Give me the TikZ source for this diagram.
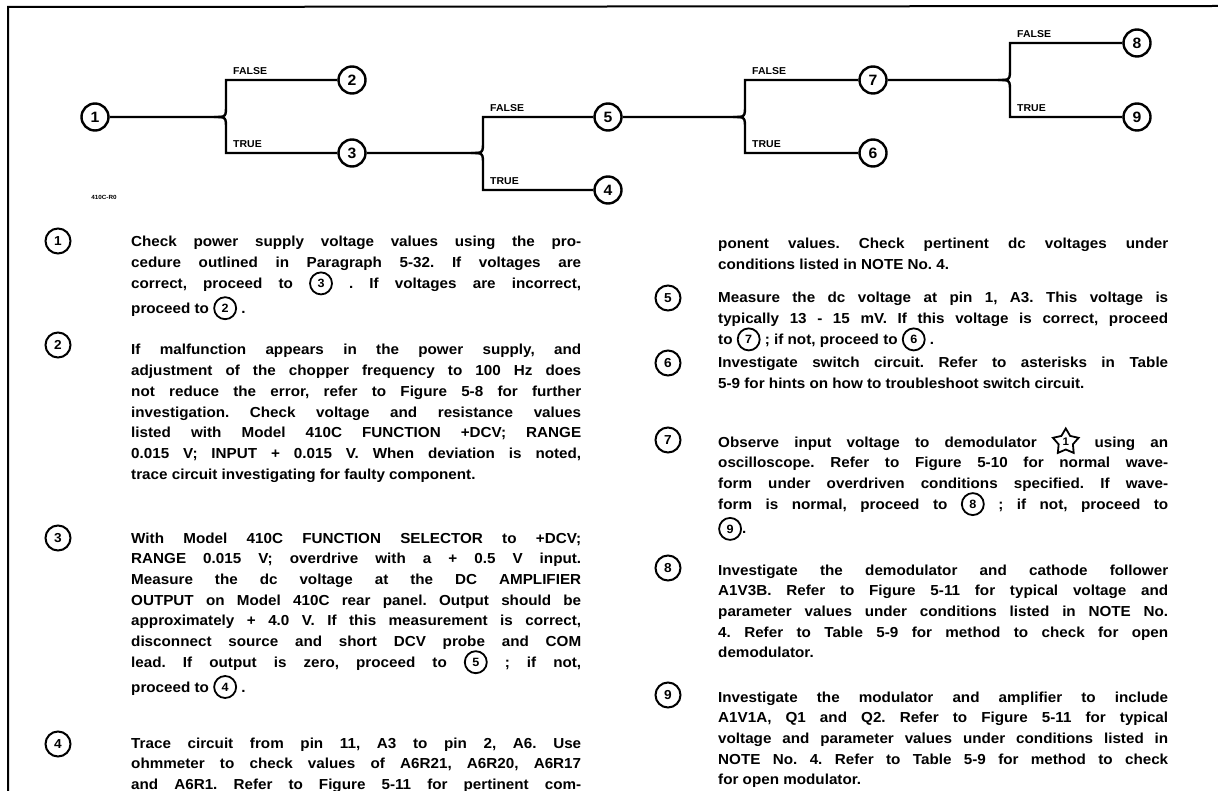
\documentclass[tikz,border=0pt]{standalone}
\usepackage{fontspec}
\setmainfont{Liberation Sans}[FakeStretch=1.05]
\usetikzlibrary{shapes.geometric,calc}
\newlength\colw \setlength\colw{450pt}
\newcommand\myjl[1]{\makebox[\colw][s]{#1}}
\newcommand\mylast[1]{\makebox[\colw][l]{#1}}
\newcommand\cn[2]{\tikz[baseline={([yshift=-5pt]#1.center)}]\node[incirc](#1){#2};}
\newcommand\stn[2]{\tikz[baseline={([yshift=-5pt]#1.center)}]\node[instar](#1){#2};}
\newcommand\ptxt{\fontsize{14.5}{20.7}\selectfont\bfseries\frenchspacing}
\tikzset{
  tnode/.style={circle, draw, line width=2.4pt, minimum size=27pt, inner sep=0pt, font=\fontsize{15}{15}\selectfont\bfseries},
  lnode/.style={circle, draw, line width=2pt, minimum size=25pt, inner sep=0pt, font=\fontsize{13}{13}\selectfont\bfseries},
  incirc/.style={anchor=center, circle, draw, line width=1.8pt, minimum size=22pt, inner sep=0pt, font=\fontsize{12}{12}\selectfont\bfseries},
  instar/.style={anchor=center, star, star points=5, star point ratio=1.8, draw, line width=1.8pt, minimum size=27pt, inner sep=0pt, font=\fontsize{11}{11}\selectfont\bfseries},
  branch/.style={line width=2.4pt},
  blabel/.style={font=\fontsize{10}{10}\selectfont\bfseries, anchor=base west, inner sep=0pt},
  para/.style={anchor=base west, inner sep=0pt},
}
\begin{document}
\begin{tikzpicture}[x=1pt,y=-1pt]
\useasboundingbox[fill=white] (0,0) rectangle (1218,791);
% frame
\draw[line width=2pt] (8,791) -- (8,7) -- (1218,6);
% tree nodes
\node[tnode] (n1) at (95,117) {1};
\node[tnode] (n2) at (352,80) {2};
\node[tnode] (n3) at (352,153) {3};
\node[tnode] (n4) at (608,190) {4};
\node[tnode] (n5) at (608,117) {5};
\node[tnode] (n6) at (873,153) {6};
\node[tnode] (n7) at (873,80) {7};
\node[tnode] (n8) at (1137,43) {8};
\node[tnode] (n9) at (1137,117) {9};
% forks
\coordinate (f1) at (226,117);
\coordinate (f2) at (483,153);
\coordinate (f3) at (745,117);
\coordinate (f4) at (1010,80);
\foreach \f/\a/\t/\b in {f1/n1/n2/n3, f2/n3/n5/n4, f3/n5/n7/n6, f4/n7/n8/n9}{
  \draw[branch] (\a.east) -- ($(\f)+(-12,0)$) .. controls (\f) .. ($(\f)+(0,-12)$) |- (\t.west);
  \draw[branch] ($(\f)+(-12,0)$) .. controls (\f) .. ($(\f)+(0,12)$) |- (\b.west);
}
% branch labels
\node[blabel] (lf1) at (233,75) {FALSE};
\node[blabel] (lt1) at (233,148) {TRUE};
\node[blabel] (lf2) at (490,112) {FALSE};
\node[blabel] (lt2) at (490,185) {TRUE};
\node[blabel] (lf3) at (752,75) {FALSE};
\node[blabel] (lt3) at (752,148) {TRUE};
\node[blabel] (lf4) at (1017,38) {FALSE};
\node[blabel] (lt4) at (1017,112) {TRUE};
\node[font=\fontsize{6}{6}\selectfont\bfseries, inner sep=0pt] (code) at (104,197) {410C-R0};
% left column numbers
\node[lnode] (l1) at (58,241) {1};
\node[lnode] (l2) at (58,345) {2};
\node[lnode] (l3) at (58,538) {3};
\node[lnode] (l4) at (58,744) {4};
% right column numbers
\node[lnode] (r5) at (668,298) {5};
\node[lnode] (r6) at (668,363) {6};
\node[lnode] (r7) at (668,440) {7};
\node[lnode] (r8) at (668,568) {8};
\node[lnode] (r9) at (668,695) {9};
% paragraphs
\node[para] (p1) at (131,247) {\parbox[t]{\colw}{\ptxt
\myjl{Check power supply voltage values using the pro-}\\
\myjl{cedure outlined in Paragraph 5-32. If voltages are}\\
\myjl{correct, proceed to \cn{a1}{3} . If voltages are incorrect,}\\
\mylast{proceed to \cn{a2}{2} .}}};
\node[para] (p2) at (131,355) {\parbox[t]{\colw}{\ptxt
\myjl{If malfunction appears in the power supply, and}\\
\myjl{adjustment of the chopper frequency to 100 Hz does}\\
\myjl{not reduce the error, refer to Figure 5-8 for further}\\
\myjl{investigation. Check voltage and resistance values}\\
\myjl{listed with Model 410C FUNCTION +DCV; RANGE}\\
\myjl{0.015 V; INPUT + 0.015 V. When deviation is noted,}\\
\mylast{trace circuit investigating for faulty component.}}};
\node[para] (p3) at (131,543) {\parbox[t]{\colw}{\ptxt
\myjl{With Model 410C FUNCTION SELECTOR to +DCV;}\\
\myjl{RANGE 0.015 V; overdrive with a + 0.5 V input.}\\
\myjl{Measure the dc voltage at the DC AMPLIFIER}\\
\myjl{OUTPUT on Model 410C rear panel. Output should be}\\
\myjl{approximately + 4.0 V. If this measurement is correct,}\\
\myjl{disconnect source and short DCV probe and COM}\\
\myjl{lead. If output is zero, proceed to \cn{a3}{5} ; if not,}\\
\mylast{proceed to \cn{a4}{4} .}}};
\node[para] (p4) at (131,748) {\parbox[t]{\colw}{\ptxt
\myjl{Trace circuit from pin 11, A3 to pin 2, A6. Use}\\
\myjl{ohmmeter to check values of A6R21, A6R20, A6R17}\\
\myjl{and A6R1. Refer to Figure 5-11 for pertinent com-}}};
\node[para] (p4b) at (718,249) {\parbox[t]{\colw}{\ptxt
\myjl{ponent values. Check pertinent dc voltages under}\\
\mylast{conditions listed in NOTE No. 4.}}};
\node[para] (p5) at (718,303) {\parbox[t]{\colw}{\ptxt
\myjl{Measure the dc voltage at pin 1, A3. This voltage is}\\
\myjl{typically 13 - 15 mV. If this voltage is correct, proceed}\\
\mylast{to \cn{a5}{7} ; if not, proceed to \cn{a6}{6} .}}};
\node[para] (p6) at (718,368) {\parbox[t]{\colw}{\ptxt
\myjl{Investigate switch circuit. Refer to asterisks in Table}\\
\mylast{5-9 for hints on how to troubleshoot switch circuit.}}};
\node[para] (p7) at (718,447) {\parbox[t]{\colw}{\ptxt
\myjl{Observe input voltage to demodulator \stn{s7}{1} using an}\\
\myjl{oscilloscope. Refer to Figure 5-10 for normal wave-}\\
\myjl{form under overdriven conditions specified. If wave-}\\
\myjl{form is normal, proceed to \cn{a7}{8} ; if not, proceed to}\\
\mylast{\cn{a8}{9}.}}};
\node[para] (p8) at (718,575) {\parbox[t]{\colw}{\ptxt
\myjl{Investigate the demodulator and cathode follower}\\
\myjl{A1V3B. Refer to Figure 5-11 for typical voltage and}\\
\myjl{parameter values under conditions listed in NOTE No.}\\
\myjl{4. Refer to Table 5-9 for method to check for open}\\
\mylast{demodulator.}}};
\node[para] (p9) at (718,702) {\parbox[t]{\colw}{\ptxt
\myjl{Investigate the modulator and amplifier to include}\\
\myjl{A1V1A, Q1 and Q2. Refer to Figure 5-11 for typical}\\
\myjl{voltage and parameter values under conditions listed in}\\
\myjl{NOTE No. 4. Refer to Table 5-9 for method to check}\\
\mylast{for open modulator.}}};
\end{tikzpicture}
\end{document}
